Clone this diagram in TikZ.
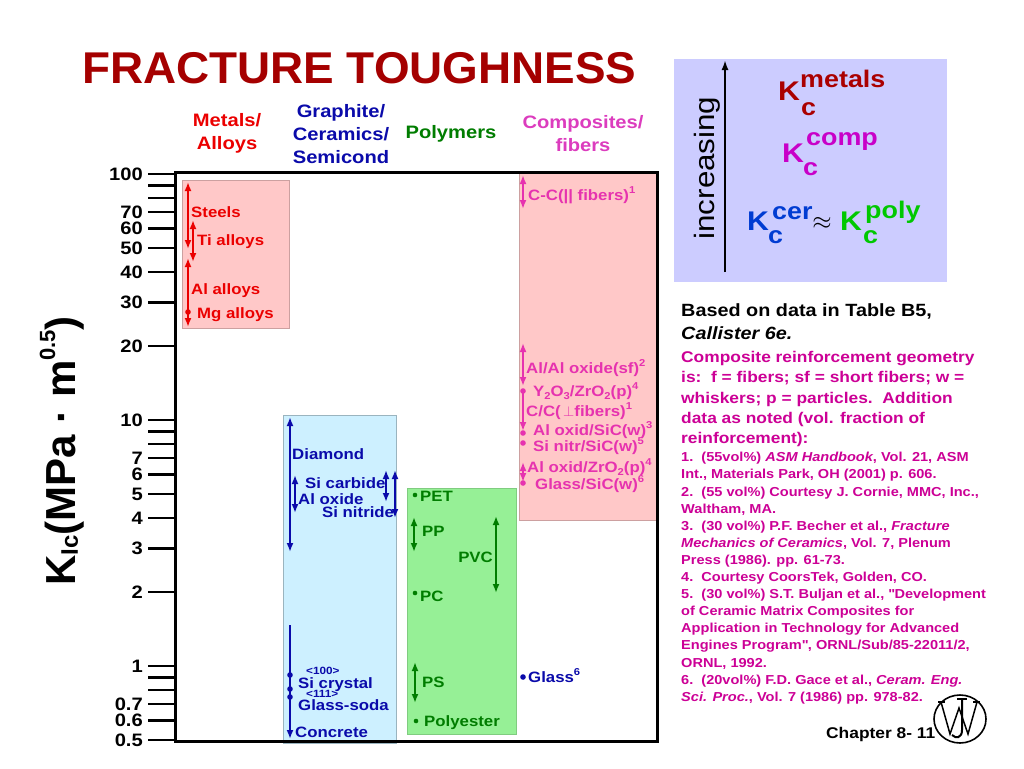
\documentclass[tikz,border=0pt]{standalone}
\usepackage{fontspec}
\setmainfont{Liberation Sans}[FakeStretch=1.12]
\newfontfamily\plainsans{Liberation Sans}
\newfontfamily\titlefont{Liberation Sans}[FakeStretch=1.03]
\usetikzlibrary{arrows.meta}
\newcommand\myfs[1]{\fontsize{#1}{#1}\selectfont}
\newcommand\sux[1]{\raisebox{.42em}{\fontsize{10}{10}\selectfont #1}}
\newcommand\sbx[1]{\raisebox{-.22em}{\fontsize{10}{10}\selectfont #1}}
\definecolor{titlered}{RGB}{165,0,0}
\definecolor{metred}{RGB}{235,0,0}
\definecolor{cernavy}{RGB}{10,10,170}
\definecolor{polgreen}{RGB}{0,125,0}
\definecolor{compmag}{RGB}{230,50,175}
\definecolor{hdrmag}{RGB}{220,60,190}
\definecolor{metbox}{RGB}{255,200,200}
\definecolor{cerbox}{RGB}{205,240,255}
\definecolor{polbox}{RGB}{150,240,150}
\definecolor{lavbox}{RGB}{204,204,255}
\definecolor{refmag}{RGB}{204,0,150}
\definecolor{kmet}{RGB}{170,0,0}
\definecolor{kcomp}{RGB}{200,0,200}
\definecolor{kcer}{RGB}{0,60,210}
\definecolor{kpoly}{RGB}{0,200,0}
\begin{document}
\begin{tikzpicture}[x=1pt,y=-1pt,
  lbl/.style={inner sep=0pt,anchor=base west,font=\bfseries\myfs{15}},
  small/.style={inner sep=0pt,anchor=base west,font=\bfseries\myfs{10.5}},
  rng/.style={line width=1.8pt,{Latex[length=9pt,width=7pt]}-{Latex[length=9pt,width=7pt]}},
  onehead/.style={line width=1.8pt,-{Latex[length=9pt,width=7pt]}},
  tick/.style={line width=2.6pt},
  ticklbl/.style={inner sep=0pt,anchor=east,font=\bfseries\myfs{18}},
  hdr/.style={align=center,inner sep=0pt,font=\bfseries\fontsize{18}{23}\selectfont},
  blk/.style={inner sep=0pt,anchor=base west,font=\bfseries\myfs{17.7}},
  mag/.style={inner sep=0pt,anchor=base west,font=\bfseries\myfs{15.5},refmag},
  foot/.style={inner sep=0pt,anchor=base west,font=\bfseries\myfs{13},refmag},
  kbig/.style={inner sep=0pt,anchor=base west,font=\bfseries\myfs{27}},
  ksup/.style={inner sep=0pt,anchor=base west,font=\bfseries\myfs{24}},
  dotr/.style={radius=2.8pt}
]
\useasboundingbox (0,0) rectangle (1024,768);
\fill[white] (0,0) rectangle (1024,768);

% title
\node[inner sep=0pt,anchor=base west,font=\titlefont\bfseries\myfs{44.5},titlered] (title) at (82,83) {FRACTURE TOUGHNESS};

% headers
\node[hdr,text=metred] (hmet) at (227,133.5) {Metals/\\Alloys};
\node[hdr,text=cernavy] (hcer) at (341,134) {Graphite/\\Ceramics/\\Semicond};
\node[hdr,text=polgreen] (hpol) at (451,134) {Polymers};
\node[hdr,text=hdrmag] (hcomp) at (583,133.5) {Composites/\\fibers};

% boxes
\filldraw[fill=metbox,draw=metbox!80!black,line width=0.4pt] (182,180) rectangle (289,328);
\filldraw[fill=cerbox,draw=cerbox!75!black,line width=0.4pt] (283,415) rectangle (396,743);
\filldraw[fill=polbox,draw=polbox!85!black,line width=0.4pt] (407,488) rectangle (516,734);
\filldraw[fill=metbox,draw=metbox!80!black,line width=0.4pt] (519,172) rectangle (657,520);

% ticks
\foreach \v in {0.5,0.6,0.7,0.8,0.9,1,2,3,4,5,6,7,8,9,10,20,30,40,50,60,70,80,90,100}
  \draw[tick] (148,{666-106.836*ln(\v)}) -- (175,{666-106.836*ln(\v)});
\foreach \v/\t [count=\i] in {100/100,70/70,60/60,50/50,40/40,30/30,20/20,10/10,7/7,6/6,5/5,4/4,3/3,2/2,1/1,0.7/0.7,0.6/0.6,0.5/0.5}
  \node[ticklbl] (tl\i) at (143,{666-106.836*ln(\v)}) {\t};

% frame
\draw[line width=3pt] (175,172) rectangle (657,741);

% y label
\node[rotate=90,inner sep=0pt,font=\plainsans\bfseries\myfs{42}] (ylab) at (62,451)
  {K\raisebox{-.06em}{\myfs{24}Ic}(MPa {\textperiodcentered} m\raisebox{.48em}{\myfs{22}0.5})};

% metals
\draw[rng,metred] (188,182) -- (188,249);
\draw[rng,metred] (193,220) -- (193,262);
\draw[rng,metred] (188,258) -- (188,327);
\fill[metred] (188,312) circle[dotr];
\node[lbl,metred] (steels) at (191,217) {Steels};
\node[lbl,metred] (tial) at (197,245) {Ti alloys};
\node[lbl,metred] (alal) at (191,294) {Al alloys};
\node[lbl,metred] (mgal) at (197,318) {Mg alloys};

% ceramics
\draw[rng,cernavy] (290,417) -- (290,552);
\draw[rng,cernavy] (295,475) -- (295,513);
\draw[rng,cernavy] (386,470) -- (386,502);
\draw[rng,cernavy] (395,470) -- (395,518);
\draw[onehead,cernavy] (290,625) -- (290,739);
\fill[cernavy] (290,675) circle[dotr];
\fill[cernavy] (290,689) circle[dotr];
\fill[cernavy] (290,697) circle[dotr];
\node[lbl,cernavy] (diam) at (292,459) {Diamond};
\node[lbl,cernavy] (sic) at (305,488) {Si carbide};
\node[lbl,cernavy] (alox) at (298,504) {Al oxide};
\node[lbl,cernavy] (sin) at (322,517) {Si nitride};
\node[small,cernavy] (c100) at (306,674) {<100>};
\node[lbl,cernavy] (sicr) at (298,688) {Si crystal};
\node[small,cernavy] (c111) at (306,697.5) {<111>};
\node[lbl,cernavy] (glso) at (298,710) {Glass-soda};
\node[lbl,cernavy] (concr) at (295,737) {Concrete};

% polymers
\fill[polgreen] (415,495) circle[radius=2.3pt];
\fill[polgreen] (415,593) circle[radius=2.3pt];
\fill[polgreen] (416,721) circle[radius=2.3pt];
\draw[rng,polgreen] (414,517) -- (414,552);
\draw[rng,polgreen] (496,516) -- (496,593);
\draw[rng,polgreen] (415,662) -- (415,703);
\node[lbl,polgreen] (pet) at (420,501) {PET};
\node[lbl,polgreen] (pp) at (422,536) {PP};
\node[lbl,polgreen,anchor=base east] (pvc) at (493,562) {PVC};
\node[lbl,polgreen] (pc) at (420,601) {PC};
\node[lbl,polgreen] (ps) at (422,687) {PS};
\node[lbl,polgreen] (polyes) at (424,726) {Polyester};

% composites
\draw[rng,compmag] (523,175) -- (523,209);
\draw[rng,compmag] (523,343) -- (523,386);
\draw[onehead,compmag] (523,392) -- (523,431);
\draw[rng,compmag] (523,462) -- (523,482);
\fill[compmag] (523,391) circle[dotr];
\fill[compmag] (523,433) circle[dotr];
\fill[compmag] (523,443) circle[dotr];
\fill[compmag] (523,483) circle[dotr];
\node[lbl,compmag] (cc) at (528,200) {C-C(|| fibers)\sux{1}};
\node[lbl,compmag] (alaox) at (526,373) {Al/Al oxide(sf)\sux{2}};
\node[lbl,compmag] (yzr) at (533,396) {Y\sbx{2}O\sbx{3}/ZrO\sbx{2}(p)\sux{4}};
\node[lbl,compmag] (ccp) at (526,416) {C/C(\,$\perp$fibers)\sux{1}};
\node[lbl,compmag] (aosic) at (533,435) {Al oxid/SiC(w)\sux{3}};
\node[lbl,compmag] (snsic) at (533,451) {Si nitr/SiC(w)\sux{5}};
\node[lbl,compmag] (aozr) at (527,472) {Al oxid/ZrO\sbx{2}(p)\sux{4}};
\node[lbl,compmag] (glsic) at (535,489) {Glass/SiC(w)\sux{6}};

% glass
\fill[cernavy] (523,677) circle[dotr];
\node[lbl,cernavy] (glass) at (528,682) {Glass\sux{6}};

% lavender box
\fill[lavbox] (674,59) rectangle (947,282);
\coordinate (incB) at (725,272);
\coordinate (incT) at (725,60);
\draw[line width=2pt,-{Latex[length=10pt,width=7pt]}] (incB) -- (incT);
\node[rotate=90,inner sep=0pt,font=\myfs{28}] (incr) at (707,168) {increasing};
\node[kbig,kmet] (km) at (778,100) {K};
\node[ksup,kmet] (kmsup) at (800,87) {metals};
\node[ksup,kmet] (kmsub) at (801,115) {c};
\node[kbig,kcomp] (kc) at (782,162) {K};
\node[ksup,kcomp] (kcsup) at (806,145) {comp};
\node[ksup,kcomp] (kcsub) at (803,175) {c};
\node[kbig,kcer] (kr) at (747,230) {K};
\node[ksup,kcer] (krsup) at (772,219) {cer};
\node[ksup,kcer] (krsub) at (768,243) {c};
\node[inner sep=0pt,font=\myfs{24}] (approx) at (822,223) {$\approx$};
\node[kbig,kpoly] (kp) at (840,230) {K};
\node[ksup,kpoly] (kpsup) at (865,218) {poly};
\node[ksup,kpoly] (kpsub) at (863,243) {c};

% right text
\node[blk] (r1) at (681,316) {Based on data in Table B5,};
\node[blk] (r2) at (681,339) {\itshape Callister 6e.};
\node[mag] (m1) at (681,362.6) {Composite reinforcement geometry};
\node[mag] (m2) at (681,382.9) {is:\ \ f = fibers; sf = short fibers; w =};
\node[mag] (m3) at (681,403.2) {whiskers; p = particles.\ \ Addition};
\node[mag] (m4) at (681,423.5) {data as noted (vol. fraction of};
\node[mag] (m5) at (681,443.8) {reinforcement):};
\node[foot] (f1) at (681,461.8) {1.\ \ (55vol\%) \textit{ASM Handbook}, Vol. 21, ASM};
\node[foot] (f2) at (681,478.9) {Int., Materials Park, OH (2001) p. 606.};
\node[foot] (f3) at (681,496.0) {2.\ \ (55 vol\%) Courtesy J. Cornie, MMC, Inc.,};
\node[foot] (f4) at (681,513.1) {Waltham, MA.};
\node[foot] (f5) at (681,530.2) {3.\ \ (30 vol\%) P.F. Becher et al., \textit{Fracture}};
\node[foot] (f6) at (681,547.3) {\textit{Mechanics of Ceramics}, Vol. 7, Plenum};
\node[foot] (f7) at (681,564.4) {Press (1986). pp. 61-73.};
\node[foot] (f8) at (681,581.5) {4.\ \ Courtesy CoorsTek, Golden, CO.};
\node[foot] (f9) at (681,598.6) {5.\ \ (30 vol\%) S.T. Buljan et al., \textquotedbl Development};
\node[foot] (f10) at (681,615.7) {of Ceramic Matrix Composites for};
\node[foot] (f11) at (681,632.8) {Application in Technology for Advanced};
\node[foot] (f12) at (681,649.9) {Engines Program\textquotedbl, ORNL/Sub/85-22011/2,};
\node[foot] (f13) at (681,667.0) {ORNL, 1992.};
\node[foot] (f14) at (681,684.1) {6.\ \ (20vol\%) F.D. Gace et al., \textit{Ceram. Eng.}};
\node[foot] (f15) at (681,701.2) {\textit{Sci. Proc.}, Vol. 7 (1986) pp. 978-82.};

% chapter and logo
\node[inner sep=0pt,anchor=base west,font=\bfseries\myfs{15.5}] (chap) at (826,738) {Chapter 8- 11};
\draw[line width=1.6pt] (960,719) ellipse [x radius=26pt, y radius=24pt];
\draw[line width=1.5pt,line join=miter] (941,702) -- (950,734) -- (959,708) -- (968,734) -- (977,702);
\draw[line width=1.2pt] (938,702) -- (945,702) (973,702) -- (980,702);
\draw[line width=2pt] (962,699) -- (962,730) .. controls (962,738) and (956,739) .. (952,735);
\draw[line width=1.2pt] (957,699) -- (967,699);
\end{tikzpicture}
\end{document}
